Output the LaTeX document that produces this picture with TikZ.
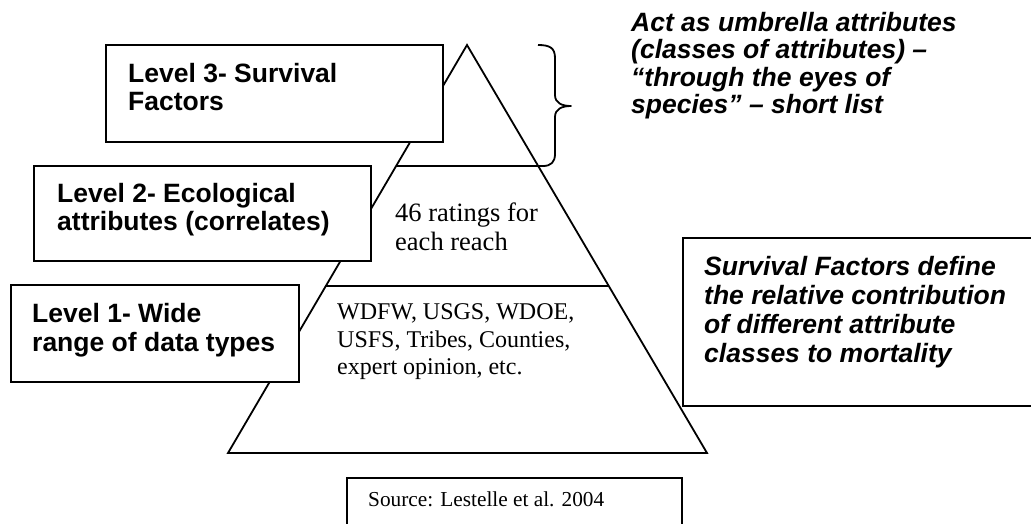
\documentclass[tikz,border=0pt]{standalone}
\usepackage{fontspec}
\setmainfont{Liberation Serif}
\newfontfamily\arialfont{Liberation Sans}
\begin{document}
\begin{tikzpicture}[x=1pt,y=-1pt,
  boxstyle/.style={draw, line width=2pt, fill=white, inner sep=0pt, outer sep=0pt, anchor=north west},
  lbl/.style={anchor=base west, inner sep=0pt, font=\arialfont\bfseries\fontsize{26.5}{28}\selectfont},
  ital/.style={anchor=base west, inner sep=0pt, font=\arialfont\bfseries\itshape\fontsize{26.5}{28}\selectfont},
  serifbig/.style={anchor=base west, inner sep=0pt, font=\fontsize{26.5}{29}\selectfont},
  serifmid/.style={anchor=base west, inner sep=0pt, font=\fontsize{24}{27}\selectfont},
  serifsmall/.style={anchor=base west, inner sep=0pt, font=\fontsize{21.3}{24}\selectfont},
  tri/.style={line width=1.8pt, line join=miter}]
\useasboundingbox (0,0) rectangle (1031,523);
\clip (0,0) rectangle (1031,523);
\fill[white] (0,0) rectangle (1031,523);

% pyramid
\coordinate (apex) at (467,45);
\coordinate (bl) at (228,453);
\coordinate (br) at (707,453);
\coordinate (l2l) at (396,166);
\coordinate (l1l) at (326,286);
\coordinate (l1r) at (608,286);
\draw[tri] (apex) -- (bl) -- (br) -- cycle;
\draw[tri] (l1l) -- (l1r);

% brace with lower arm forming the level-2 line
\coordinate (bt) at (538,45);
\coordinate (btip) at (571,106);
\draw[tri, line join=round] (bt) .. controls (550,45) and (555,48) .. (555,58)
  -- (555,95) .. controls (555,103) and (562,106) .. (btip)
  .. controls (562,106) and (555,109) .. (555,117)
  -- (555,154) .. controls (555,162) and (551,166) .. (543,166) -- (l2l);

% level boxes
\node[boxstyle, minimum width=337pt, minimum height=97pt] (b3) at (106,45) {};
\node[boxstyle, minimum width=337pt, minimum height=95pt] (b2) at (34,166) {};
\node[boxstyle, minimum width=288pt, minimum height=97pt] (b1) at (11,285) {};
\node[boxstyle, minimum width=420pt, minimum height=168pt] (sf) at (683,238) {};
\node[boxstyle, minimum width=335pt, minimum height=80pt] (src) at (347,478) {};

% texts in level boxes
\node[lbl] (t3a) at (128,82) {Level 3- Survival};
\node[lbl] (t3b) at (128,110) {Factors};
\node[lbl] (t2a) at (57,202) {Level 2- Ecological};
\node[lbl] (t2b) at (57,230) {attributes (correlates)};
\node[lbl] (t1a) at (32,322) {Level 1- Wide};
\node[lbl] (t1b) at (32,351) {range of data types};

% pyramid texts
\node[serifbig] (r1) at (395,221) {46 ratings for};
\node[serifbig] (r2) at (395,250) {each reach};
\node[serifmid] (w1) at (337,319) {WDFW, USGS, WDOE,};
\node[serifmid] (w2) at (337,347) {USFS, Tribes, Counties,};
\node[serifmid] (w3) at (337,374) {expert opinion, etc.};

% italic notes
\node[ital] (u1) at (631,31) {Act as umbrella attributes};
\node[ital] (u2) at (631,58.5) {(classes of attributes) –};
\node[ital] (u3) at (631,86) {“through the eyes of};
\node[ital] (u4) at (631,113.5) {species” – short list};

\node[ital] (s1) at (704,275) {Survival Factors define};
\node[ital] (s2) at (704,304) {the relative contribution};
\node[ital] (s3) at (704,333) {of different attribute};
\node[ital] (s4) at (704,362) {classes to mortality};

% source
\node[serifsmall] (srct) at (368,506) {Source: Lestelle et al. 2004};
\end{tikzpicture}
\end{document}
